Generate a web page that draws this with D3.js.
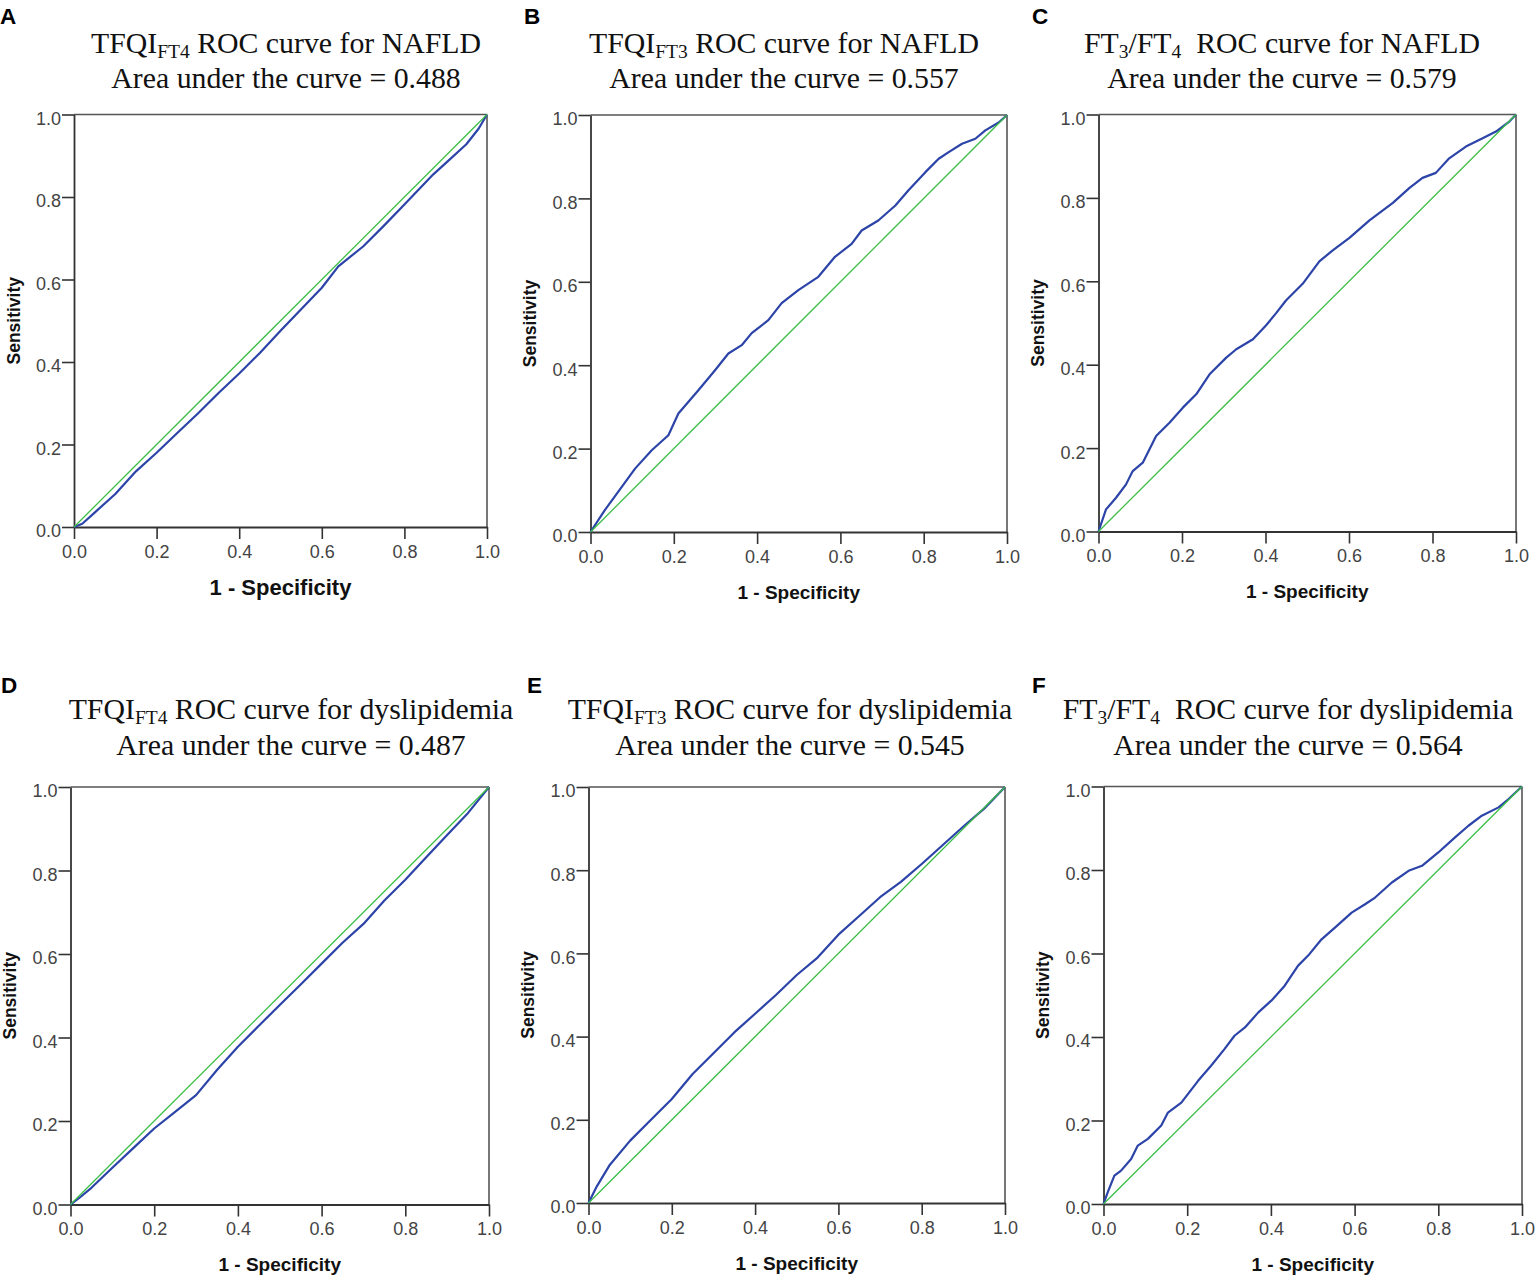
<!DOCTYPE html>
<html>
<head>
<meta charset="utf-8">
<script src="https://cdn.jsdelivr.net/npm/d3@7/dist/d3.min.js"></script>
<style>
  html, body { margin: 0; padding: 0; background: #fff; }
  svg { display: block; }
</style>
</head>
<body>
<svg id="chart" width="1536" height="1275"></svg>
<script>
// ---------------- DATA ----------------
const axisTicks = [0, 0.2, 0.4, 0.6, 0.8, 1.0];
const tickLabels = ["0.0", "0.2", "0.4", "0.6", "0.8", "1.0"];

const panelLetters = ["A", "B", "C", "D", "E", "F"];
const titleMarkers = ["TFQI_FT4", "TFQI_FT3", "FT3/FT4", "TFQI_FT4", "TFQI_FT3", "FT3/FT4"];
const titleOutcomes = ["NAFLD", "NAFLD", "NAFLD", "dyslipidemia", "dyslipidemia", "dyslipidemia"];
const aucValues = ["0.488", "0.557", "0.579", "0.487", "0.545", "0.564"];

// Panel A: TFQI_FT4, NAFLD
const fprA = [0, 0.02, 0.05, 0.1, 0.15, 0.2, 0.25, 0.3, 0.35, 0.4, 0.45, 0.5, 0.55, 0.6, 0.64, 0.7, 0.75, 0.8, 0.87, 0.9, 0.95, 0.98, 1];
const tprA = [0, 0.008, 0.035, 0.08, 0.135, 0.18, 0.228, 0.275, 0.325, 0.372, 0.422, 0.476, 0.528, 0.58, 0.632, 0.68, 0.73, 0.782, 0.855, 0.882, 0.928, 0.966, 1];

// Panel B: TFQI_FT3, NAFLD
const fprB = [0, 0.034, 0.107, 0.147, 0.187, 0.211, 0.259, 0.299, 0.331, 0.363, 0.387, 0.427, 0.459, 0.499, 0.547, 0.587, 0.627, 0.651, 0.691, 0.732, 0.763, 0.804, 0.836, 0.86, 0.892, 0.924, 0.948, 0.98, 1];
const tprB = [0, 0.052, 0.152, 0.196, 0.232, 0.284, 0.34, 0.388, 0.428, 0.448, 0.477, 0.508, 0.549, 0.58, 0.612, 0.66, 0.691, 0.723, 0.747, 0.783, 0.819, 0.863, 0.895, 0.911, 0.931, 0.943, 0.963, 0.982, 1];

// Panel C: FT3/FT4, NAFLD
const fprC = [0, 0.018, 0.042, 0.066, 0.082, 0.106, 0.138, 0.17, 0.202, 0.234, 0.266, 0.306, 0.33, 0.37, 0.401, 0.425, 0.449, 0.489, 0.529, 0.561, 0.601, 0.649, 0.705, 0.745, 0.776, 0.808, 0.84, 0.88, 0.92, 0.952, 0.984, 1];
const tprC = [0, 0.053, 0.081, 0.113, 0.145, 0.165, 0.229, 0.261, 0.297, 0.329, 0.377, 0.417, 0.437, 0.461, 0.494, 0.523, 0.554, 0.594, 0.648, 0.674, 0.704, 0.746, 0.788, 0.824, 0.848, 0.86, 0.895, 0.923, 0.943, 0.959, 0.983, 1];

// Panel D: TFQI_FT4, dyslipidemia
const fprD = [0, 0.02, 0.05, 0.1, 0.15, 0.2, 0.25, 0.3, 0.35, 0.4, 0.45, 0.5, 0.55, 0.6, 0.65, 0.7, 0.75, 0.8, 0.85, 0.9, 0.95, 1];
const tprD = [0, 0.015, 0.04, 0.088, 0.135, 0.182, 0.222, 0.262, 0.322, 0.378, 0.428, 0.478, 0.527, 0.577, 0.627, 0.672, 0.728, 0.778, 0.832, 0.885, 0.938, 1];

// Panel E: TFQI_FT3, dyslipidemia
const fprE = [0, 0.02, 0.05, 0.1, 0.15, 0.2, 0.25, 0.3, 0.35, 0.4, 0.45, 0.5, 0.55, 0.6, 0.65, 0.7, 0.75, 0.8, 0.85, 0.9, 0.95, 1];
const tprE = [0, 0.04, 0.09, 0.15, 0.2, 0.25, 0.31, 0.36, 0.41, 0.455, 0.5, 0.548, 0.59, 0.645, 0.69, 0.735, 0.772, 0.815, 0.86, 0.905, 0.948, 1];

// Panel F: FT3/FT4, dyslipidemia
const fprF = [0, 0.01, 0.026, 0.042, 0.066, 0.082, 0.106, 0.138, 0.154, 0.186, 0.226, 0.257, 0.289, 0.313, 0.338, 0.37, 0.401, 0.433, 0.465, 0.489, 0.521, 0.553, 0.593, 0.625, 0.649, 0.689, 0.729, 0.761, 0.8, 0.84, 0.872, 0.904, 0.944, 0.968, 1];
const tprF = [0, 0.028, 0.068, 0.08, 0.108, 0.14, 0.156, 0.188, 0.219, 0.243, 0.295, 0.331, 0.371, 0.403, 0.423, 0.459, 0.487, 0.523, 0.571, 0.595, 0.634, 0.662, 0.698, 0.718, 0.734, 0.77, 0.798, 0.81, 0.842, 0.878, 0.906, 0.93, 0.95, 0.97, 1];

const rocFpr = [fprA, fprB, fprC, fprD, fprE, fprF];
const rocTpr = [tprA, tprB, tprC, tprD, tprE, tprF];
const refLine = [0, 1];

// ---------------- LAYOUT ----------------
const layout = [
  { L: 74,    R: 487,  T: 114.5, B: 527,    tx: 286,  t1: 53,  t2: 88,  lx: 0,    ly: 24,  xlab: 22 },
  { L: 590.5, R: 1007, T: 115,   B: 532,    tx: 784,  t1: 53,  t2: 88,  lx: 524,  ly: 24,  xlab: 19 },
  { L: 1098.5,R: 1516, T: 114.5, B: 531.5,  tx: 1282, t1: 53,  t2: 88,  lx: 1032, ly: 24,  xlab: 19 },
  { L: 70.5,  R: 489,  T: 787,   B: 1204.5, tx: 291,  t1: 719, t2: 755, lx: 1,    ly: 693, xlab: 19 },
  { L: 588.5, R: 1005, T: 787,   B: 1203,   tx: 790,  t1: 719, t2: 755, lx: 527,  ly: 693, xlab: 19 },
  { L: 1103.5,R: 1522, T: 786.5, B: 1204,   tx: 1288, t1: 719, t2: 755, lx: 1032, ly: 693, xlab: 19 }
];

const svg = d3.select("#chart");
const serif = "'Liberation Serif', 'Times New Roman', Times, serif";
const sans = "'Liberation Sans', Arial, Helvetica, sans-serif";
const axisColor = "#333";
const blue = "#2c44a8";
const green = "#3cbe46";
const titleSize = 29.8;

function addTitle(g, i, p) {
  const marker = titleMarkers[i], outcome = titleOutcomes[i];
  const t = g.append("text")
    .attr("x", p.tx).attr("y", p.t1)
    .attr("text-anchor", "middle")
    .attr("font-family", serif)
    .attr("font-size", titleSize)
    .attr("fill", "#111");
  const subSize = 19.5, shift = 5;
  if (marker.startsWith("TFQI_")) {
    t.append("tspan").text("TFQI");
    t.append("tspan").attr("font-size", subSize).attr("dy", shift).text(marker.split("_")[1]);
    t.append("tspan").attr("dy", -shift).text(" ROC curve for " + outcome);
  } else {
    t.append("tspan").text("FT");
    t.append("tspan").attr("font-size", subSize).attr("dy", shift).text("3");
    t.append("tspan").attr("dy", -shift).text("/FT");
    t.append("tspan").attr("font-size", subSize).attr("dy", shift).text("4");
    t.append("tspan").attr("dy", -shift).text("\u00A0 ROC curve for " + outcome);
  }
  g.append("text")
    .attr("x", p.tx).attr("y", p.t2)
    .attr("text-anchor", "middle")
    .attr("font-family", serif)
    .attr("font-size", titleSize)
    .attr("fill", "#111")
    .text("Area under the curve = " + aucValues[i]);
}

layout.forEach((p, i) => {
  const g = svg.append("g");
  const x = d3.scaleLinear().domain([0, 1]).range([p.L, p.R]);
  const y = d3.scaleLinear().domain([0, 1]).range([p.B, p.T]);

  // panel letter
  g.append("text")
    .attr("x", p.lx).attr("y", p.ly)
    .attr("font-family", sans).attr("font-weight", "bold")
    .attr("font-size", 22.5).attr("fill", "#000")
    .text(panelLetters[i]);

  addTitle(g, i, p);

  // frame (top & right)
  g.append("line").attr("x1", x(0)).attr("x2", x(1)).attr("y1", y(1)).attr("y2", y(1))
    .attr("stroke", "#555").attr("stroke-width", 1.6);
  g.append("line").attr("x1", x(1)).attr("x2", x(1)).attr("y1", y(0)).attr("y2", y(1))
    .attr("stroke", "#555").attr("stroke-width", 1.6);

  // axes
  const xAxis = d3.axisBottom(x).tickValues(axisTicks).tickFormat((d, j) => tickLabels[j])
    .tickSize(12).tickSizeOuter(0).tickPadding(6);
  const yAxis = d3.axisLeft(y).tickValues(axisTicks).tickFormat((d, j) => tickLabels[j])
    .tickSize(12).tickSizeOuter(0).tickPadding(1);

  const gx = g.append("g").attr("transform", `translate(0,${p.B})`).call(xAxis);
  const gy = g.append("g").attr("transform", `translate(${p.L},0)`).call(yAxis);
  [gx, gy].forEach(a => {
    a.select(".domain").attr("stroke", axisColor).attr("stroke-width", 1.8);
    a.selectAll(".tick line").attr("stroke", axisColor).attr("stroke-width", 1.6);
    a.selectAll(".tick text").attr("fill", "#444")
      .attr("font-family", sans).attr("font-size", 18);
  });
  gy.selectAll(".tick text").attr("dy", "0.55em");

  // axis labels
  g.append("text")
    .attr("x", (p.L + p.R) / 2).attr("y", p.B + 60)
    .attr("text-anchor", "middle").attr("dominant-baseline", "central")
    .attr("font-family", sans).attr("font-weight", "bold")
    .attr("font-size", p.xlab).attr("fill", "#111")
    .text("1 - Specificity");
  g.append("text")
    .attr("transform", `translate(${p.L - 60.5},${(p.T + p.B) / 2}) rotate(-90)`)
    .attr("text-anchor", "middle").attr("dominant-baseline", "central")
    .attr("font-family", sans).attr("font-weight", "bold")
    .attr("font-size", 17.5).attr("fill", "#111")
    .text("Sensitivity");

  // ROC curve
  const pts = rocFpr[i].map((v, j) => [v, rocTpr[i][j]]);
  const line = d3.line().x(d => x(d[0])).y(d => y(d[1]));
  g.append("path").datum(pts)
    .attr("d", line)
    .attr("fill", "none").attr("stroke", blue).attr("stroke-width", 2.2)
    .attr("stroke-linejoin", "round");

  // reference diagonal
  g.append("path").datum(refLine.map(v => [v, v]))
    .attr("d", line)
    .attr("fill", "none").attr("stroke", green).attr("stroke-width", 1.3);
});
</script>
</body>
</html>
